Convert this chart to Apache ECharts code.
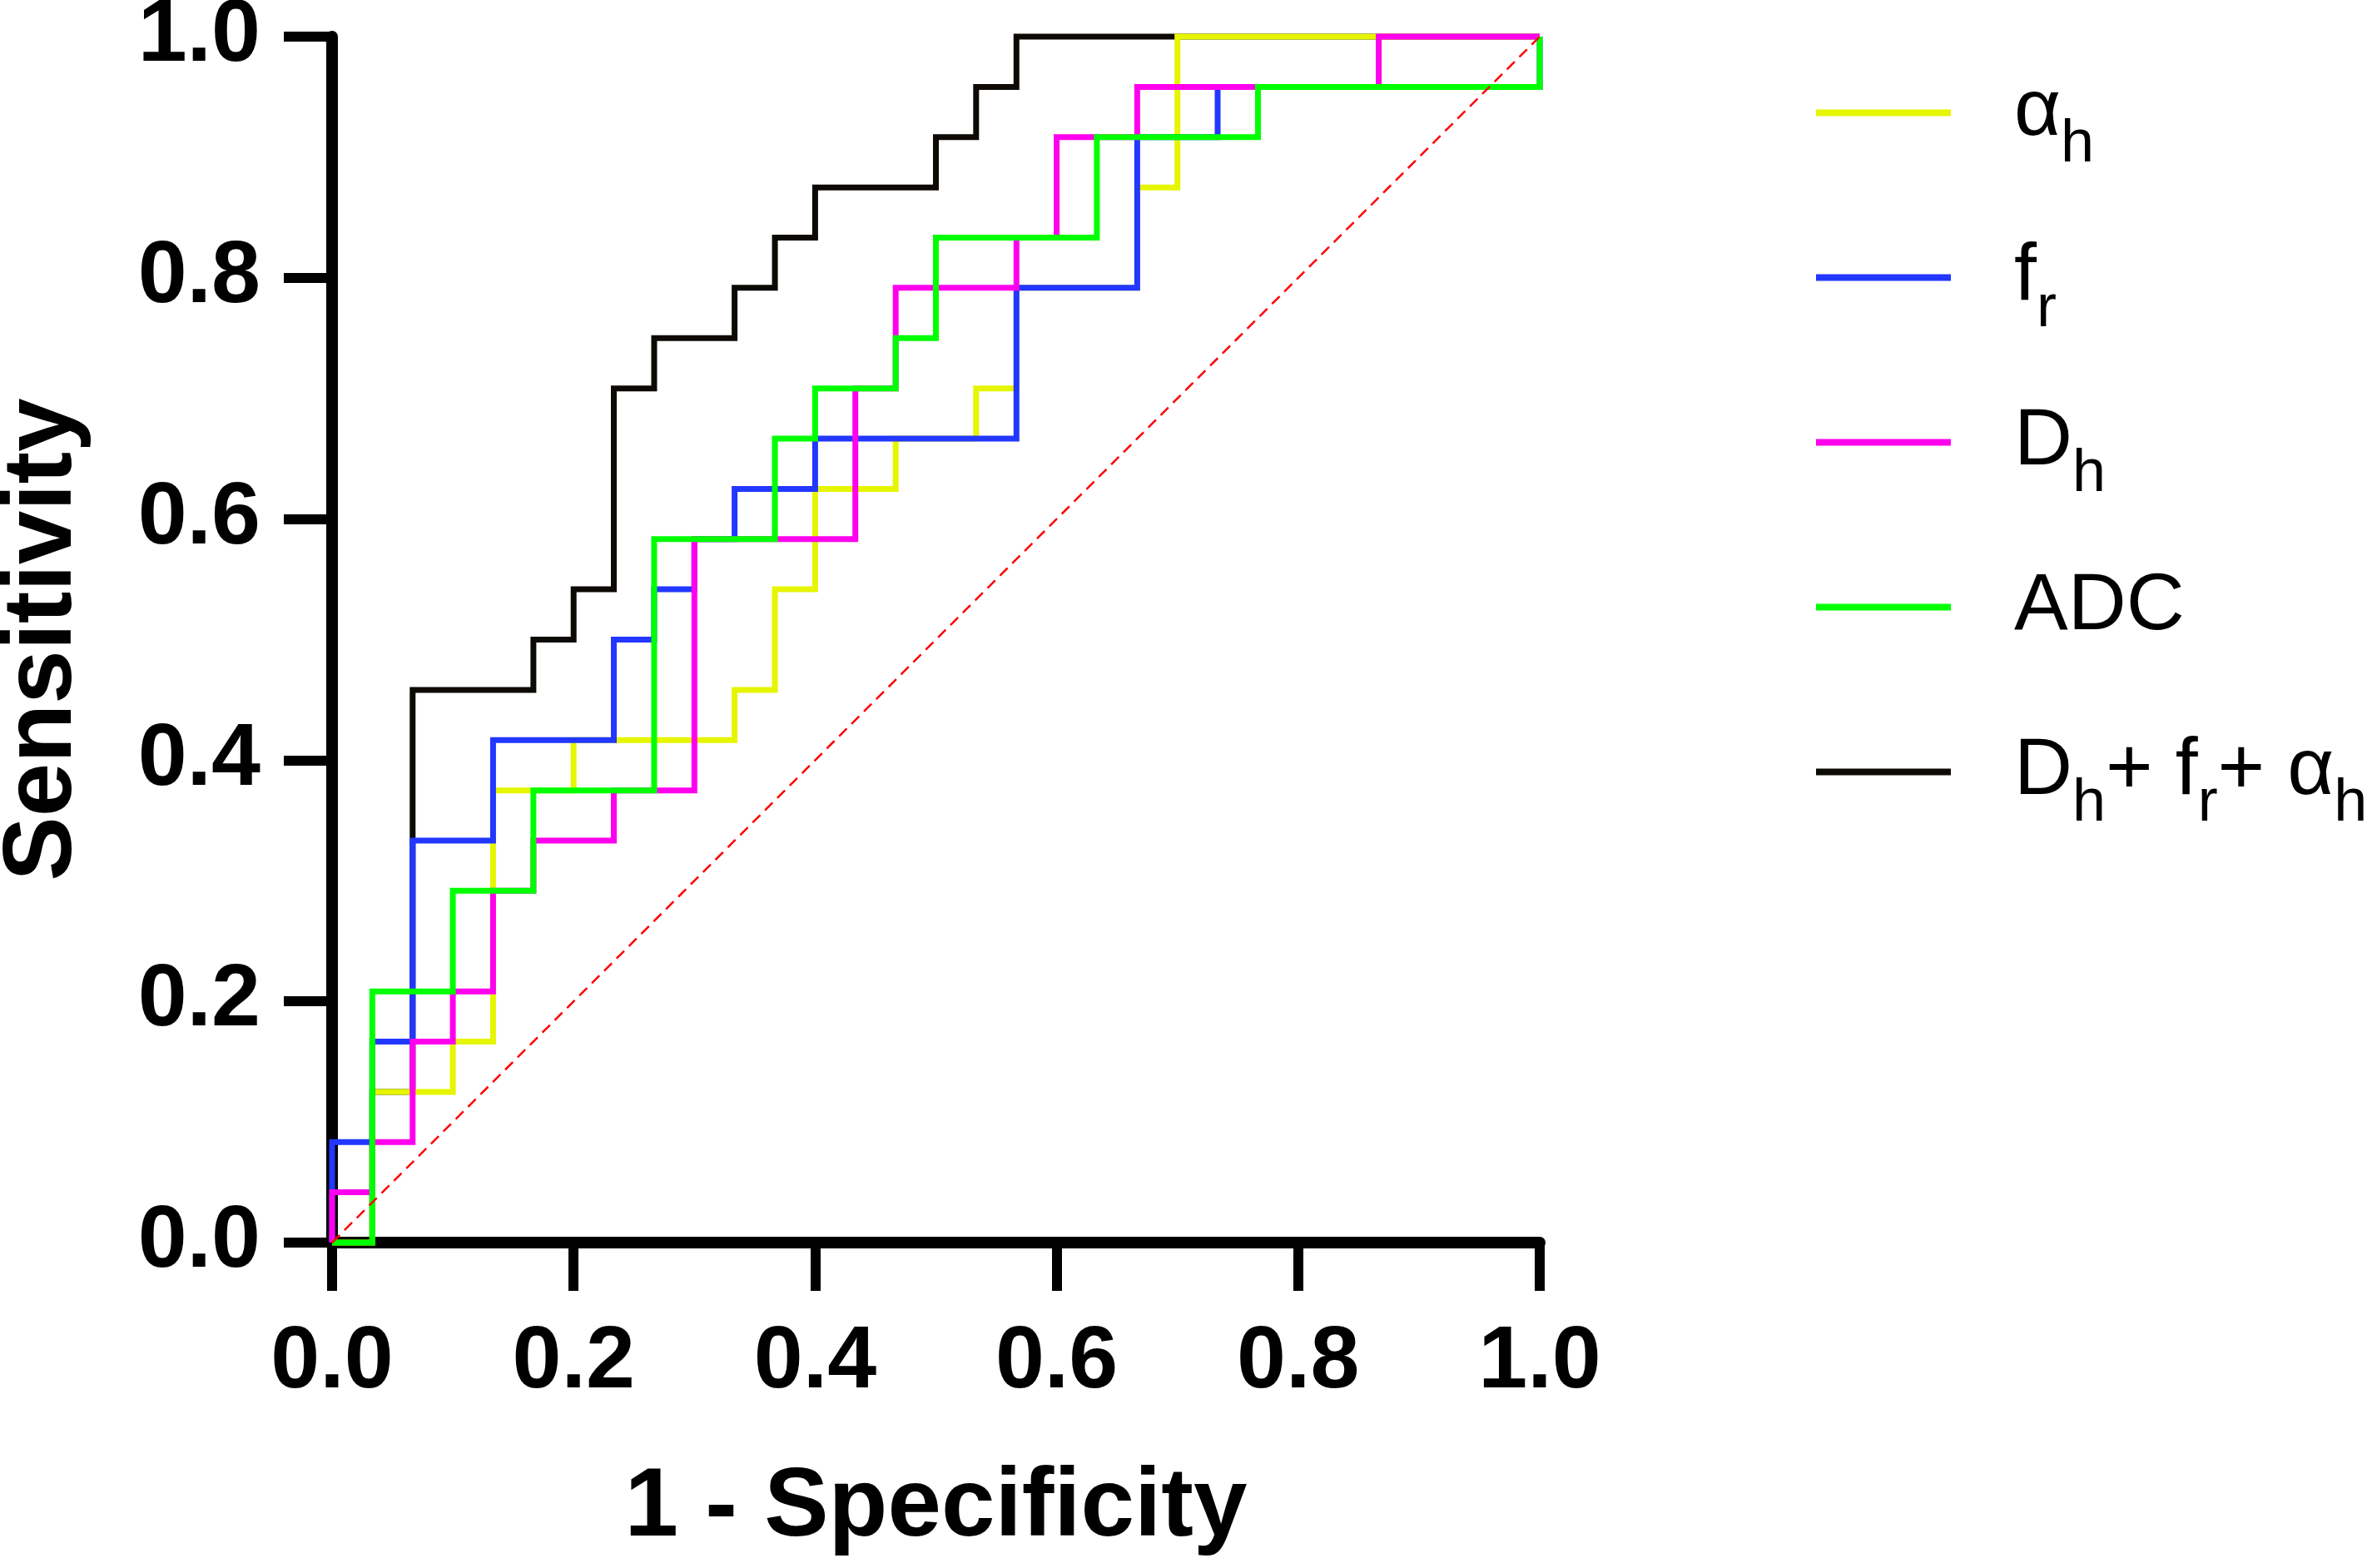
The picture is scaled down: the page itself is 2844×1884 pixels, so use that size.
<!DOCTYPE html>
<html>
<head>
<meta charset="utf-8">
<title>ROC</title>
<script src="https://cdn.jsdelivr.net/npm/echarts@6/dist/echarts.min.js"></script>
<style>
html, body { margin: 0; padding: 0; background: #fff; }
#main { width: 2844px; height: 1884px; }
</style>
</head>
<body>
<div id="main"></div>
<script>
// ROC steps (1 - specificity, sensitivity)
var alphaFpr = [0, 0.0333, 0.1, 0.1333, 0.2, 0.3333, 0.3667, 0.4, 0.4667, 0.5333, 0.5667, 0.6667, 0.7, 1];
var alphaTpr = [0, 0.125, 0.1667, 0.375, 0.4167, 0.4583, 0.5417, 0.625, 0.6667, 0.7083, 0.7917, 0.875, 1, 1];

var frFpr = [0, 0, 0.0333, 0.0667, 0.1333, 0.2333, 0.2667, 0.3, 0.3333, 0.4, 0.5667, 0.6667, 0.7333, 1];
var frTpr = [0, 0.0833, 0.1667, 0.3333, 0.4167, 0.5, 0.5417, 0.5833, 0.625, 0.6667, 0.7917, 0.9167, 0.9583, 1];

var dhFpr = [0, 0, 0.0333, 0.0667, 0.1, 0.1333, 0.1667, 0.2333, 0.3, 0.4333, 0.4667, 0.5667, 0.6, 0.6667, 0.8667, 1];
var dhTpr = [0, 0.0417, 0.0833, 0.1667, 0.2083, 0.2917, 0.3333, 0.375, 0.5833, 0.7083, 0.7917, 0.8333, 0.9167, 0.9583, 1, 1];

var adcFpr = [0, 0.0333, 0.1, 0.1667, 0.2667, 0.3667, 0.4, 0.4667, 0.5, 0.6333, 0.7667, 1];
var adcTpr = [0, 0.2083, 0.2917, 0.375, 0.5833, 0.6667, 0.7083, 0.75, 0.8333, 0.9167, 0.9583, 1];

var comboFpr = [0, 0.0333, 0.0667, 0.1667, 0.2, 0.2333, 0.2667, 0.3333, 0.3667, 0.4, 0.5, 0.5333, 0.5667, 1];
var comboTpr = [0, 0.125, 0.4583, 0.5, 0.5417, 0.7083, 0.75, 0.7917, 0.8333, 0.875, 0.9167, 0.9583, 1, 1];

// reference diagonal
var refX = [0, 1];
var refY = [0, 1];

var tickLabels = ['0.0', '0.2', '0.4', '0.6', '0.8', '1.0'];
var legendNames = ['αh', 'fr', 'Dh', 'ADC', 'Dh+ fr+ αh'];
// legend text with subscripts (ADC gets an empty subscript so every row has the same box)
var legendText = {
    'αh': '{b|α}{s|h}',
    'fr': '{b|f}{s|r}',
    'Dh': '{b|D}{s|h}',
    'ADC': '{b|ADC}{s| }',
    'Dh+ fr+ αh': '{b|D}{s|h}{b|+ f}{s|r}{b|+ α}{s|h}'
};

var font = "'Liberation Sans', Arial, sans-serif";

function pts(xs, ys) {
    return xs.map(function (x, k) { return [x, ys[k]]; });
}

function rocSeries(name, color, xs, ys) {
    return {
        name: name,
        type: 'line',
        step: 'end',
        data: pts(xs, ys),
        symbol: 'none',
        clip: false,
        color: color,
        lineStyle: { color: color, width: 7, join: 'miter' }
    };
}

// one legend block per row, so the rows sit at a fixed pitch
function legendRow(name, k) {
    return {
        data: [name],
        orient: 'vertical',
        left: 2177,
        top: 82 + k * 198,
        itemWidth: 162,
        itemHeight: 8,
        icon: 'rect',
        selectedMode: false,
        formatter: function (n) { return '{g| }' + legendText[n]; },
        textStyle: {
            fontFamily: font,
            fontSize: 97,
            color: '#000',
            rich: {
                g: { width: 71, fontSize: 97, lineHeight: 150 },
                b: { fontFamily: font, fontSize: 97, lineHeight: 150, color: '#000' },
                s: { fontFamily: font, fontSize: 72, lineHeight: 72, verticalAlign: 'bottom', color: '#000' }
            }
        }
    };
}

var axisCommon = {
    type: 'value',
    min: 0,
    max: 1,
    interval: 0.2,
    splitLine: { show: false },
    axisLine: { lineStyle: { color: '#000', width: 14 } },
    axisTick: { length: 58, lineStyle: { color: '#000', width: 12 } },
    nameLocation: 'middle',
    nameTextStyle: { fontFamily: font, fontWeight: 'bold', fontSize: 116, color: '#000' }
};

option = {
    animation: false,
    backgroundColor: '#fff',
    grid: { left: 399, right: 994, top: 44, bottom: 391, containLabel: false, outerBoundsMode: 'none' },
    legend: legendNames.map(legendRow),
    xAxis: Object.assign({}, axisCommon, {
        name: '1 - Specificity',
        nameGap: 262,
        axisLabel: {
            margin: 92,
            fontFamily: font, fontWeight: 'bold', fontSize: 106, color: '#000',
            formatter: function (v) { return tickLabels[Math.round(v * 5)]; }
        }
    }),
    yAxis: Object.assign({}, axisCommon, {
        name: 'Sensitivity',
        nameGap: 288,
        axisLabel: {
            margin: 86,
            fontFamily: font, fontWeight: 'bold', fontSize: 106, color: '#000',
            formatter: function (v) { return tickLabels[Math.round(v * 5)]; }
        }
    }),
    series: [
        rocSeries('Dh+ fr+ αh', '#0d0a05', comboFpr, comboTpr),
        rocSeries('αh', '#e6f500', alphaFpr, alphaTpr),
        rocSeries('fr', '#2237ff', frFpr, frTpr),
        rocSeries('Dh', '#ff00ee', dhFpr, dhTpr),
        rocSeries('ADC', '#00ff00', adcFpr, adcTpr),
        {
            name: 'ref',
            type: 'line',
            data: pts(refX, refY),
            symbol: 'none',
            clip: false,
            lineStyle: { color: '#ff0000', width: 2.5, type: [13, 8] }
        }
    ]
};

var myChart = echarts.init(document.getElementById('main'));
myChart.setOption(option);
</script>
</body>
</html>
